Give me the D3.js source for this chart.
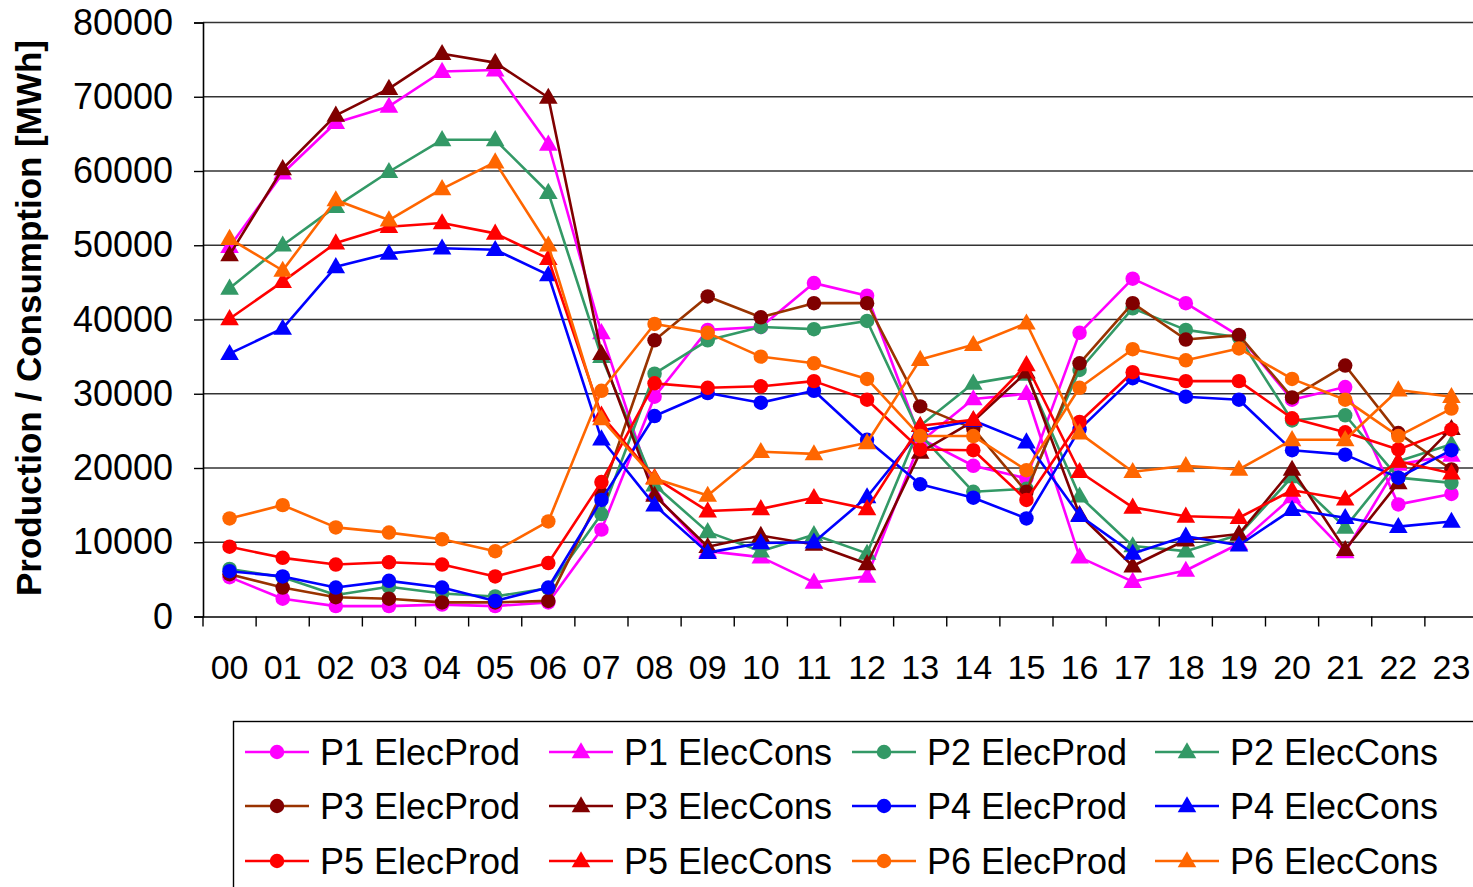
<!DOCTYPE html>
<html>
<head>
<meta charset="utf-8">
<script src="https://cdn.jsdelivr.net/npm/d3@7"></script>
<style>
  html, body { margin: 0; padding: 0; background: #fff; }
  svg { display: block; font-family: "Liberation Sans", Arial, sans-serif; }
</style>
</head>
<body>
<svg id="chart" width="1473" height="887"></svg>
<script>
// Hourly electricity production and consumption for six plants (MWh)
const hours = ["00","01","02","03","04","05","06","07","08","09","10","11",
               "12","13","14","15","16","17","18","19","20","21","22","23"];
const yTicks = [0, 10000, 20000, 30000, 40000, 50000, 60000, 70000, 80000];

const p1Prod = [5300,2400,1400,1400,1600,1400,1900,11700,29600,38600,39000,44900,
                43200,24000,20300,18600,38200,45500,42200,37800,29200,30900,15100,16500];
const p1Cons = [49800,59700,66500,68700,73400,73600,63600,38200,16500,8800,8000,4600,
                5400,23500,29300,30000,8000,4700,6200,9800,16100,8700,20500,21700];
const p2Prod = [6400,5300,2900,4000,3100,2700,3800,13800,32700,37200,39000,38700,
                39800,24500,16800,17200,33200,41500,38600,37600,26400,27100,18700,18000];
const p2Cons = [44200,50000,55200,59900,64200,64200,57100,35000,17700,11400,8800,11000,
                8500,25700,31400,32600,16200,9500,8800,11000,18800,12000,20900,23200];
const p3Prod = [5700,3900,2600,2400,1900,1900,2100,16500,37200,43100,40300,42200,
                42200,28300,25300,16800,34100,42200,37300,37900,29500,33800,24700,19800];
const p3Cons = [48700,60300,67500,71100,75800,74600,69900,35400,16300,9400,10900,9700,
                7100,22100,26300,32900,13700,6800,10300,11100,19800,9000,18000,25300];
const p4Prod = [6100,5400,3900,4800,3900,2100,3900,15700,27000,30100,28800,30400,
                23800,17800,16000,13200,25200,32100,29600,29200,22400,21800,18700,22400];
const p4Cons = [35400,38800,47100,48900,49600,49400,46000,23900,15000,8600,9900,10000,
                16100,25000,26400,23500,13600,8500,10800,9600,14400,13300,12100,12800];
const p5Prod = [9400,7900,7000,7300,7000,5400,7200,18100,31400,30800,31000,31700,
                29200,22500,22400,15700,26200,32900,31700,31700,26700,24800,22500,25200];
const p5Cons = [40100,45100,50300,52500,53000,51600,48200,27100,18700,14200,14500,16000,
                14500,25700,26500,33900,19500,14700,13500,13300,17000,15800,20900,19300];
const p6Prod = [13200,15000,12000,11300,10400,8800,12800,30400,39400,38200,35000,34100,
                32000,24300,24300,19700,30800,36000,34500,36100,32000,29200,24300,28000];
const p6Cons = [50900,46600,56100,53400,57600,61200,50000,26600,18600,16300,22200,21900,
                23400,34600,36600,39500,24700,19500,20300,19800,23800,23800,30500,29600];

const series = [
  { name: "P1 ElecProd", values: p1Prod, line: "#FF00FF", fill: "#FF00FF", shape: "circle" },
  { name: "P1 ElecCons", values: p1Cons, line: "#FF00FF", fill: "#FF00FF", shape: "triangle" },
  { name: "P2 ElecProd", values: p2Prod, line: "#339966", fill: "#339966", shape: "circle" },
  { name: "P2 ElecCons", values: p2Cons, line: "#339966", fill: "#339966", shape: "triangle" },
  { name: "P3 ElecProd", values: p3Prod, line: "#993300", fill: "#800000", shape: "circle" },
  { name: "P3 ElecCons", values: p3Cons, line: "#800000", fill: "#800000", shape: "triangle" },
  { name: "P4 ElecProd", values: p4Prod, line: "#0000FF", fill: "#0000FF", shape: "circle" },
  { name: "P4 ElecCons", values: p4Cons, line: "#0000FF", fill: "#0000FF", shape: "triangle" },
  { name: "P5 ElecProd", values: p5Prod, line: "#FF0000", fill: "#FF0000", shape: "circle" },
  { name: "P5 ElecCons", values: p5Cons, line: "#FF0000", fill: "#FF0000", shape: "triangle" },
  { name: "P6 ElecProd", values: p6Prod, line: "#FF6600", fill: "#FF6600", shape: "circle" },
  { name: "P6 ElecCons", values: p6Cons, line: "#FF6600", fill: "#FF6600", shape: "triangle" }
];

const svg = d3.select("#chart");
const plot = { left: 203, right: 1478, top: 22.5, bottom: 616.5 };

const x = d3.scaleBand().domain(hours).range([plot.left, plot.right]).padding(0);
const cx = h => x(h) + x.bandwidth() / 2;
const y = d3.scaleLinear().domain([0, 80000]).range([plot.bottom, plot.top]);

// Horizontal gridlines
svg.append("g")
  .selectAll("line")
  .data(yTicks.filter(v => v > 0))
  .join("line")
  .attr("x1", plot.left).attr("x2", plot.right)
  .attr("y1", d => y(d)).attr("y2", d => y(d))
  .attr("stroke", "#333").attr("stroke-width", 1.4);

// Y axis
const yAxis = svg.append("g")
  .attr("transform", `translate(${plot.left},0)`)
  .call(d3.axisLeft(y).tickValues(yTicks).tickSize(9).tickPadding(21).tickFormat(d3.format("d")));
yAxis.select(".domain").attr("stroke", "#000").attr("stroke-width", 1.6);
yAxis.selectAll(".tick line").attr("stroke", "#000").attr("stroke-width", 1.4);
yAxis.selectAll("text").attr("font-size", 36).attr("fill", "#000")
  .attr("font-family", "'Liberation Sans', Arial, sans-serif");

// X axis: labels at band centres, tick marks at band edges
const xAxis = svg.append("g")
  .attr("transform", `translate(0,${plot.bottom})`)
  .call(d3.axisBottom(x).tickSize(0).tickPadding(38));
xAxis.select(".domain").attr("stroke", "#000").attr("stroke-width", 1.6);
xAxis.selectAll("text").attr("font-size", 34).attr("fill", "#000")
  .attr("font-family", "'Liberation Sans', Arial, sans-serif");
svg.append("g")
  .selectAll("line")
  .data(hours.map(h => x(h)).concat([plot.right]))
  .join("line")
  .attr("x1", d => d).attr("x2", d => d)
  .attr("y1", plot.bottom).attr("y2", plot.bottom + 10)
  .attr("stroke", "#000").attr("stroke-width", 1.4);

// Y axis title
svg.append("text")
  .attr("transform", "translate(41,318) rotate(-90)")
  .attr("text-anchor", "middle")
  .attr("font-size", 35)
  .attr("font-weight", "bold")
  .attr("fill", "#000")
  .text("Production / Consumption [MWh]");

const circleSym = d3.symbol().type(d3.symbolCircle).size(165);
const triSym = d3.symbol().type(d3.symbolTriangle).size(150);

const line = d3.line().x((d, i) => cx(hours[i])).y(d => y(d));

// Series lines and markers, drawn in series order
series.forEach(s => {
  const g = svg.append("g");
  g.append("path")
    .attr("d", line(s.values))
    .attr("fill", "none")
    .attr("stroke", s.line)
    .attr("stroke-width", 2.6)
    .attr("stroke-linejoin", "round");
  g.selectAll("path.mark")
    .data(s.values)
    .join("path")
    .attr("class", "mark")
    .attr("transform", (d, i) => `translate(${cx(hours[i])},${y(d) + (s.shape === "triangle" ? 1 : 0)})`)
    .attr("d", s.shape === "circle" ? circleSym : triSym)
    .attr("fill", s.fill);
});

// Legend
const legend = svg.append("g");
legend.append("rect")
  .attr("x", 233.5).attr("y", 721.5)
  .attr("width", 1260).attr("height", 180)
  .attr("fill", "#fff").attr("stroke", "#000").attr("stroke-width", 1.4);

const colX = [245, 549, 852, 1155];
const rowY = [752, 806, 861];
series.forEach((s, i) => {
  const lx = colX[i % 4];
  const ly = rowY[Math.floor(i / 4)];
  const item = legend.append("g").attr("transform", `translate(${lx},${ly})`);
  item.append("line")
    .attr("x1", 0).attr("x2", 64).attr("y1", 0).attr("y2", 0)
    .attr("stroke", s.line).attr("stroke-width", 2.6);
  item.append("path")
    .attr("transform", `translate(32,${s.shape === "triangle" ? 1 : 0})`)
    .attr("d", s.shape === "circle" ? circleSym : triSym)
    .attr("fill", s.fill);
  item.append("text")
    .attr("x", 75).attr("y", 0).attr("dy", "0.35em")
    .attr("font-size", 36).attr("fill", "#000")
    .text(s.name);
});
</script>
</body>
</html>
